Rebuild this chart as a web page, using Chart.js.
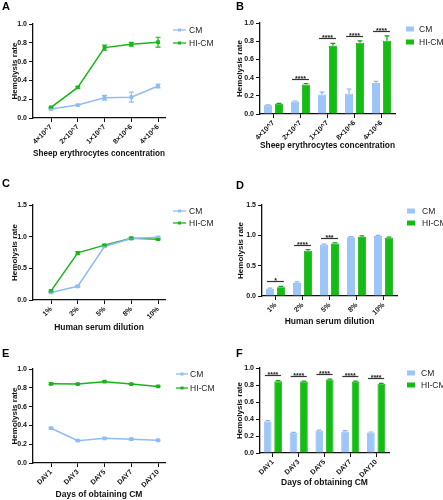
<!DOCTYPE html>
<html>
<head>
<meta charset="utf-8">
<script src="https://cdn.jsdelivr.net/npm/chart.js@4.4.0/dist/chart.umd.min.js"></script>
<style>
  html, body { margin: 0; padding: 0; background: #fff; }
  #fig { position: relative; width: 443px; height: 500px; overflow: hidden; }
  #fig canvas { position: absolute; }
  .lbl { position: absolute; font: bold 11px "Liberation Sans", Arial, sans-serif; line-height: 11px; color: #000; }
</style>
</head>
<body>
<div id="fig">
  <canvas id="cA" width="221" height="180" style="left:0;top:0"></canvas>
  <canvas id="cB" width="221" height="180" style="left:222px;top:0"></canvas>
  <canvas id="cC" width="221" height="180" style="left:0;top:165px"></canvas>
  <canvas id="cD" width="221" height="180" style="left:222px;top:165px"></canvas>
  <canvas id="cE" width="221" height="170" style="left:0;top:330px"></canvas>
  <canvas id="cF" width="221" height="170" style="left:222px;top:330px"></canvas>
  <div class="lbl" style="left:2px;top:1px">A</div>
  <div class="lbl" style="left:236px;top:1px">B</div>
  <div class="lbl" style="left:2px;top:178px">C</div>
  <div class="lbl" style="left:236px;top:180px">D</div>
  <div class="lbl" style="left:2px;top:348px">E</div>
  <div class="lbl" style="left:236px;top:348px">F</div>
</div>
<script>
// --- data ---
const concLabels = ['4×10^7', '2×10^7', '1×10^7', '8×10^6', '4×10^6'];
const concCM = [0.095, 0.138, 0.215, 0.222, 0.34];
const concCMErr = [0.005, 0.005, 0.025, 0.053, 0.02];
const concHI = [0.112, 0.325, 0.749, 0.784, 0.806];
const concHIErr = [0.005, 0.01, 0.027, 0.02, 0.053];
const concSig = ['', '****', '****', '****', '****'];

const dilLabels = ['1%', '2%', '5%', '8%', '10%'];
const dilCM = [0.12, 0.217, 0.845, 0.97, 0.99];
const dilCMErr = [0.01, 0.015, 0.01, 0.01, 0.01];
const dilHI = [0.143, 0.745, 0.866, 0.975, 0.96];
const dilHIErr = [0.015, 0.02, 0.01, 0.015, 0.01];
const dilSig = ['*', '****', '***', '', ''];

const dayLabels = ['DAY1', 'DAY3', 'DAY5', 'DAY7', 'DAY10'];
const dayCM = [0.37, 0.238, 0.263, 0.253, 0.242];
const dayCMErr = [0.01, 0.005, 0.005, 0.01, 0.005];
const dayHI = [0.843, 0.84, 0.865, 0.84, 0.815];
const dayHIErr = [0.01, 0.005, 0.005, 0.005, 0.005];
const daySig = ['****', '****', '****', '****', '****'];

const seriesNames = ['CM', 'HI-CM'];

// --- styling ---
const FONT = '"Liberation Sans", Arial, sans-serif';
const INK = '#111';
const BLUE = '#8fbcf4', GREEN = '#19b419';
const BLUE_BAR = '#9cc6f8', GREEN_BAR = '#12be12';
const BLUE_EDGE = '#86b4ee', GREEN_EDGE = '#0aa50a';

function deco(p) {
  return {
    id: 'deco',
    afterDatasetsDraw(chart) {
      const ctx = chart.ctx, ys = chart.scales.y, isBar = p.type === 'bar';
      // error bars
      chart.data.datasets.forEach((ds, di) => {
        const meta = chart.getDatasetMeta(di);
        ctx.save();
        ctx.strokeStyle = ds.errColor;
        ctx.lineWidth = 1.2;
        meta.data.forEach((el, i) => {
          const v = ds.vals[i], e = ds.err[i];
          const top = ys.getPixelForValue(v + e);
          const bot = ys.getPixelForValue(isBar ? v : v - e);
          const half = isBar ? el.width * 0.3 : 2.5;
          ctx.beginPath();
          ctx.moveTo(el.x, top); ctx.lineTo(el.x, bot);
          ctx.moveTo(el.x - half, top); ctx.lineTo(el.x + half, top);
          if (!isBar) { ctx.moveTo(el.x - half, bot); ctx.lineTo(el.x + half, bot); }
          ctx.stroke();
        });
        ctx.restore();
      });
      // significance marks
      if (p.sig) {
        const m0 = chart.getDatasetMeta(0).data, m1 = chart.getDatasetMeta(1).data;
        const d0 = chart.data.datasets[0], d1 = chart.data.datasets[1];
        p.sig.forEach((s, i) => {
          if (!s) return;
          const top = Math.max(d0.vals[i] + d0.err[i], d1.vals[i] + d1.err[i]);
          const yy = Math.round(ys.getPixelForValue(top) - 5) + 0.5;
          const x0 = m0[i].x - m0[i].width / 2 + 1, x1 = m1[i].x + m1[i].width / 2 - 1;
          ctx.save();
          ctx.strokeStyle = '#333'; ctx.lineWidth = 1.2;
          ctx.beginPath(); ctx.moveTo(x0, yy); ctx.lineTo(x1, yy); ctx.stroke();
          ctx.fillStyle = '#222';
          ctx.font = 'bold 7px ' + FONT;
          ctx.textAlign = 'center'; ctx.textBaseline = 'alphabetic';
          ctx.fillText(s, (x0 + x1) / 2, yy + 1.5);
          ctx.restore();
        });
      }
      // legend
      const lg = p.legend;
      chart.data.datasets.forEach((ds, di) => {
        const y = lg.ys[di];
        ctx.save();
        if (isBar) {
          ctx.fillStyle = ds.backgroundColor;
          ctx.fillRect(lg.x0, y - 2.5, lg.w, 5);
        } else {
          ctx.strokeStyle = ds.borderColor; ctx.lineWidth = 1.3;
          ctx.beginPath(); ctx.moveTo(lg.x0, y); ctx.lineTo(lg.x0 + lg.w, y); ctx.stroke();
          ctx.fillStyle = ds.borderColor;
          ctx.fillRect(lg.x0 + lg.w / 2 - 1.5, y - 1.5, 3, 3);
        }
        ctx.fillStyle = '#222';
        ctx.font = '8.5px ' + FONT;
        ctx.textAlign = 'left'; ctx.textBaseline = 'middle';
        ctx.fillText(ds.label, lg.tx, y + 0.5);
        ctx.restore();
      });
    }
  };
}

function makeChart(p) {
  const H = p.h, W = 221;
  const padL = p.yTitleX - 4.8;
  const xBottom = p.titleY + 5.1;
  const tickFont = { family: FONT, size: 7, weight: 'bold' };
  const gridCfg = { drawOnChartArea: false, drawTicks: true, tickLength: 4, color: INK, lineWidth: 1 };
  const borderCfg = { display: true, color: INK, width: 1.3 };
  const isBar = p.type === 'bar';
  const cols = isBar ? [[BLUE_BAR, BLUE_EDGE], [GREEN_BAR, GREEN_EDGE]] : [[BLUE, BLUE], [GREEN, GREEN]];

  const datasets = [p.cm, p.hi].map((s, k) => {
    const ds = {
      label: seriesNames[k], vals: s[0], err: s[1],
      backgroundColor: cols[k][0], borderColor: cols[k][1], errColor: cols[k][1]
    };
    if (isBar) {
      ds.data = s[0];
      ds.borderWidth = 0.8;
      ds.barPercentage = 0.73;
      ds.categoryPercentage = 0.81;
    } else {
      ds.data = s[0].map((v, i) => ({ x: i, y: v }));
      ds.borderWidth = 1.5;
      ds.pointStyle = 'rect';
      ds.pointRadius = 1.6;
      ds.tension = 0;
    }
    return ds;
  });

  const xTitle = { display: true, text: p.xTitle, font: { family: FONT, size: 8.5, weight: 'bold' }, color: INK, padding: 0 };
  const xTicks = { autoSkip: false, maxRotation: 45, minRotation: 45, font: tickFont, color: INK, padding: 1 };
  let xScale;
  if (isBar) {
    xScale = { type: 'category', offset: true, ticks: xTicks,
      grid: Object.assign({ offset: false }, gridCfg), border: borderCfg, title: xTitle };
  } else {
    xScale = { type: 'linear', min: p.xMin, max: p.xMax,
      ticks: Object.assign({ stepSize: 1, includeBounds: false, callback: v => p.labels[Math.round(v)] ?? '' }, xTicks),
      grid: gridCfg, border: borderCfg, title: xTitle };
  }
  xScale.afterFit = s => { s.height = xBottom - p.b; };

  return new Chart(document.getElementById(p.id), {
    type: p.type,
    data: { labels: isBar ? p.labels : undefined, datasets },
    options: {
      responsive: false, animation: false,
      layout: { padding: { left: padL, top: p.t, right: W - p.r, bottom: H - xBottom } },
      plugins: { legend: { display: false }, tooltip: { enabled: false } },
      scales: {
        x: xScale,
        y: {
          min: 0, max: p.yMax,
          ticks: { stepSize: p.yStep, callback: v => v.toFixed(1), font: tickFont, color: INK, padding: 2 },
          grid: gridCfg, border: borderCfg,
          title: { display: true, text: 'Hemolysis rate', font: { family: FONT, size: 8, weight: 'bold' }, color: INK, padding: 0 },
          afterFit: s => { s.width = p.l - padL; }
        }
      }
    },
    plugins: [deco(p)]
  });
}

const lineLegend = ys => ({ x0: 173, w: 13, tx: 189, ys });
const barLegend = (x0, tx, ys) => ({ x0, w: 8, tx, ys });

makeChart({ id: 'cA', type: 'line', h: 180, labels: concLabels, cm: [concCM, concCMErr], hi: [concHI, concHIErr],
  l: 33, t: 24, r: 165, b: 118, titleY: 154, yTitleX: 14.5, yMax: 1, yStep: 0.2, xMin: -0.673, xMax: 4.26,
  xTitle: 'Sheep erythrocytes concentration', legend: lineLegend([30, 43]) });
makeChart({ id: 'cB', type: 'bar', h: 180, labels: concLabels, cm: [concCM, concCMErr], hi: [concHI, concHIErr], sig: concSig,
  l: 38, t: 23, r: 173, b: 114, titleY: 146, yTitleX: 18, yMax: 1, yStep: 0.2,
  xTitle: 'Sheep erythrocytes concentration', legend: barLegend(184, 197, [29, 42]) });
makeChart({ id: 'cC', type: 'line', h: 180, labels: dilLabels, cm: [dilCM, dilCMErr], hi: [dilHI, dilHIErr],
  l: 33, t: 40, r: 165, b: 135, titleY: 163, yTitleX: 14.5, yMax: 1.5, yStep: 0.5, xMin: -0.673, xMax: 4.26,
  xTitle: 'Human serum dilution', legend: lineLegend([46, 58]) });
makeChart({ id: 'cD', type: 'bar', h: 180, labels: dilLabels, cm: [dilCM, dilCMErr], hi: [dilHI, dilHIErr], sig: dilSig,
  l: 40, t: 40, r: 175, b: 131, titleY: 157, yTitleX: 19, yMax: 1.5, yStep: 0.5,
  xTitle: 'Human serum dilution', legend: barLegend(185, 200, [46, 58]) });
makeChart({ id: 'cE', type: 'line', h: 170, labels: dayLabels, cm: [dayCM, dayCMErr], hi: [dayHI, dayHIErr],
  l: 33, t: 39, r: 165, b: 133, titleY: 165, yTitleX: 14.5, yMax: 1, yStep: 0.2, xMin: -0.673, xMax: 4.26,
  xTitle: 'Days of obtaining CM', legend: { x0: 176, w: 12, tx: 190, ys: [44, 58] } });
makeChart({ id: 'cF', type: 'bar', h: 170, labels: dayLabels, cm: [dayCM, dayCMErr], hi: [dayHI, dayHIErr], sig: daySig,
  l: 38, t: 38, r: 167, b: 123, titleY: 153, yTitleX: 18, yMax: 1, yStep: 0.2,
  xTitle: 'Days of obtaining CM', legend: barLegend(185, 199, [43, 55]) });
</script>
</body>
</html>
